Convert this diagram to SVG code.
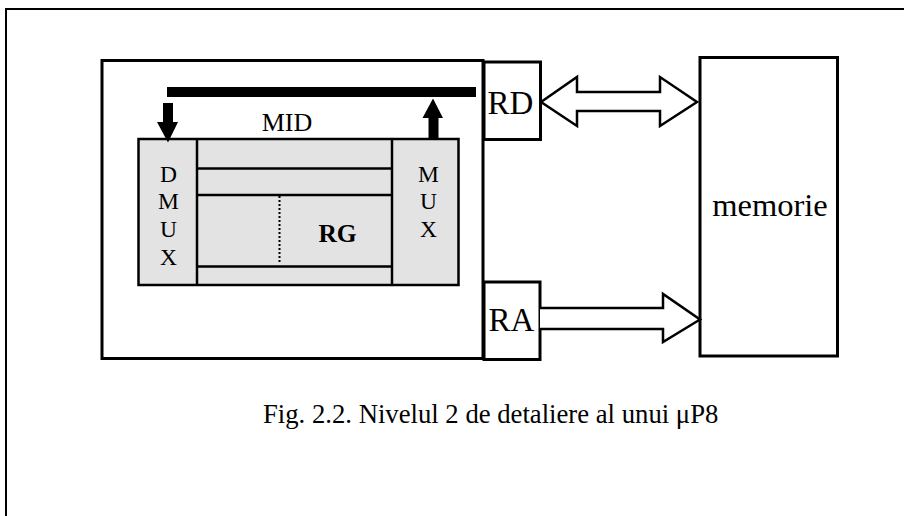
<svg xmlns="http://www.w3.org/2000/svg" width="904" height="516" viewBox="0 0 904 516">
<style>
.t{font-family:"Liberation Serif","Times New Roman",serif;fill:#000}
.box{fill:#fff;stroke:#000;stroke-width:3}
.reg{fill:#e3e3e3;stroke:#000;stroke-width:2.5}
.ln{stroke:#000;stroke-width:2.5;fill:none}
.bus{fill:#fff;stroke:#000;stroke-width:2.5;stroke-linejoin:miter}
</style>
<rect width="904" height="516" fill="#fff"/>
<path d="M6,516 V9 H904" fill="none" stroke="#000" stroke-width="2"/>
<g id="cpu">
<rect class="box" x="102" y="60.5" width="381" height="298"/>
</g>
<g id="mid">
<rect x="167" y="87" width="309" height="10" fill="#000"/>
<text class="t" x="287" y="131" font-size="26" text-anchor="middle">MID</text>
</g>
<g id="registers">
<rect class="reg" x="138.5" y="139" width="320" height="146"/>
<line class="ln" x1="197" y1="139" x2="197" y2="285"/>
<line class="ln" x1="392" y1="139" x2="392" y2="285"/>
<line class="ln" x1="197" y1="168.5" x2="392" y2="168.5"/>
<line class="ln" x1="197" y1="195" x2="392" y2="195"/>
<line class="ln" x1="197" y1="266.5" x2="392" y2="266.5"/>
<line x1="279.5" y1="196" x2="279.5" y2="264" stroke="#000" stroke-width="2" stroke-dasharray="2,2"/>
<text class="t" x="337.5" y="242" font-size="25.5" font-weight="bold" text-anchor="middle">RG</text>
</g>
<g id="dmux">
<text class="t" font-size="23.5" text-anchor="middle"><tspan x="168.5" y="182">D</tspan><tspan x="168.5" y="209">M</tspan><tspan x="168.5" y="237">U</tspan><tspan x="168.5" y="265">X</tspan></text>
</g>
<g id="mux">
<text class="t" font-size="23.5" text-anchor="middle"><tspan x="428.5" y="182">M</tspan><tspan x="428.5" y="209">U</tspan><tspan x="428.5" y="237">X</tspan></text>
</g>
<g id="rd">
<rect class="box" x="484" y="62" width="56.5" height="77.5"/>
<text class="t" x="510.5" y="113.5" font-size="33" text-anchor="middle">RD</text>
</g>
<g id="ra">
<rect class="box" x="484" y="282" width="56" height="77.5"/>
<text class="t" x="511.5" y="331" font-size="33" text-anchor="middle">RA</text>
</g>
<g id="memorie">
<rect class="box" x="700" y="57.5" width="137.5" height="298.5"/>
<text class="t" x="770" y="216" font-size="32.5" text-anchor="middle">memorie</text>
</g>
<g id="connectors">
<polygon fill="#000" points="163,103 173,103 173,122 178,122 168,142.5 157,122 163,122"/>
<polygon fill="#000" points="428.5,138 438.5,138 438.5,118 443,118 433,98.5 422.5,118 428.5,118"/>
<polygon class="bus" points="541,102 577,77 577,92 660,92 660,77 697,102 660,126 660,111 577,111 577,126"/>
<polyline class="bus" points="540,308 663,308 663,294 700,319.5 663,342 663,329 540,329"/>
</g>
<text class="t" x="263" y="422.5" font-size="26.7">Fig. 2.2. Nivelul 2 de detaliere al unui μP8</text>
</svg>
